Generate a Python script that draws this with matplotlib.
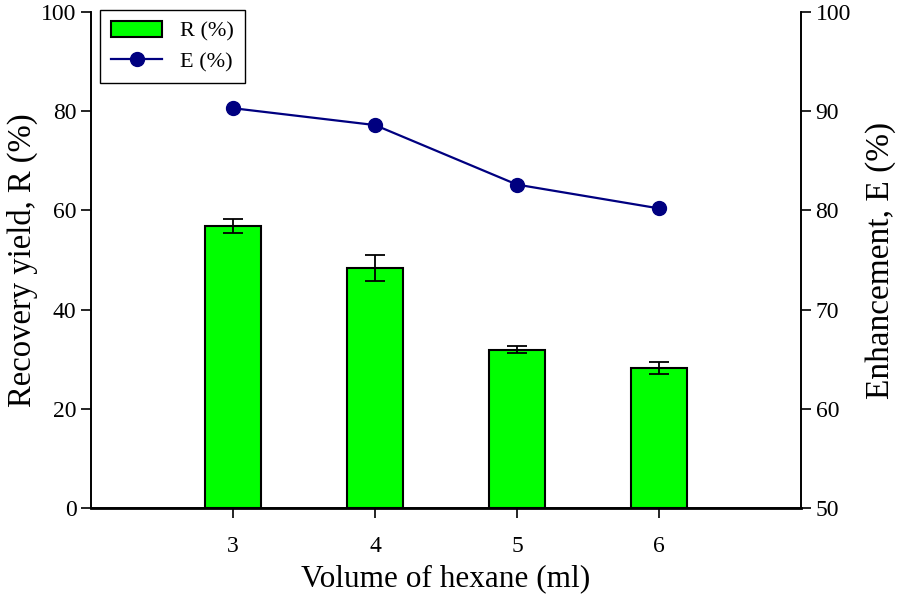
import matplotlib
matplotlib.use("Agg")
import matplotlib.pyplot as plt

plt.rcParams["font.family"] = ["Liberation Serif", "DejaVu Serif"]

# data
volume = [3, 4, 5, 6]
recovery = [56.9, 48.4, 31.9, 28.2]
recovery_err = [1.4, 2.7, 0.75, 1.15]
enhancement = [90.3, 88.6, 82.6, 80.2]

fig = plt.figure(figsize=(8.98, 5.98), dpi=100)
ax = fig.add_axes([0.1013, 0.1505, 0.7906, 0.8295])

ax.bar(volume, recovery, width=0.4, color="#00FF00", edgecolor="black",
       linewidth=1.5, yerr=recovery_err, capsize=7,
       error_kw=dict(elinewidth=1.3, capthick=1.3, ecolor="black"),
       label="R (%)", zorder=2)
ax.set_xlim(2, 7)
ax.set_ylim(0, 100)
ax.set_xticks(volume)
ax.set_yticks(range(0, 101, 20))
ax.set_xlabel("Volume of hexane (ml)", fontsize=22.5, labelpad=5)
ax.set_ylabel("Recovery yield, R (%)", fontsize=23.5, labelpad=2)
ax.tick_params(axis="both", labelsize=17, direction="out", length=7, width=1.2)
ax.tick_params(axis="x", pad=13)
for sp in ax.spines.values():
    sp.set_linewidth(1.2)
ax.spines["bottom"].set_linewidth(2.0)
ax.spines["top"].set_visible(False)

ax2 = ax.twinx()
ax2.plot(volume, enhancement, color="#000080", linewidth=1.6, marker="o",
         markersize=10, label="E (%)", zorder=3)
ax2.set_ylim(50, 100)
ax2.set_yticks(range(50, 101, 10))
ax2.set_ylabel("Enhancement, E (%)", fontsize=24, labelpad=10)
ax2.tick_params(axis="y", labelsize=17, direction="out", length=7, width=1.2)
for sp in ax2.spines.values():
    sp.set_linewidth(1.2)
ax2.spines["top"].set_visible(False)

h1, l1 = ax.get_legend_handles_labels()
h2, l2 = ax2.get_legend_handles_labels()
leg = ax2.legend(h1 + h2, l1 + l2, loc="upper left", bbox_to_anchor=(0.0127, 1.004),
                 borderaxespad=0, fontsize=16, fancybox=False, edgecolor="black",
                 framealpha=1, handlelength=2.3, borderpad=0.5, labelspacing=0.45)
leg.get_frame().set_linewidth(1.0)

fig.savefig("out.png", dpi=100)
